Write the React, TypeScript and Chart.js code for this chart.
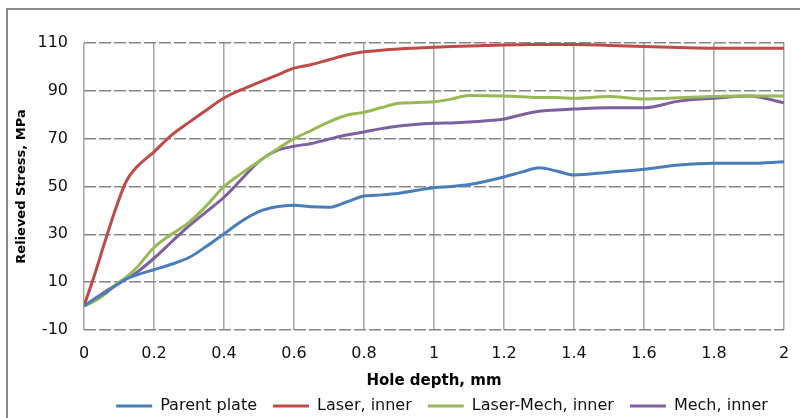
import React, { useEffect, useRef } from "react";
import { Chart, registerables } from "chart.js";

Chart.register(...registerables);

const depthMm = [0, 0.03, 0.06, 0.09, 0.12, 0.15, 0.2, 0.25, 0.3, 0.35, 0.4, 0.45, 0.5, 0.55, 0.6, 0.65, 0.7, 0.75, 0.8, 0.85, 0.9, 1.0, 1.05, 1.1, 1.2, 1.25, 1.3, 1.35, 1.4, 1.5, 1.6, 1.7, 1.8, 1.9, 2.0];
const parentPlate = [0, 3, 5.5, 8.5, 11.3, 13, 15.2, 17.5, 20.3, 25, 30.2, 35.5, 39.5, 41.5, 42.2, 41.5, 41.3, 43.5, 46, 46.5, 47.2, 49.5, 50, 50.8, 54, 56, 57.8, 56.5, 54.8, 56, 57.2, 59, 59.7, 59.7, 60.3];
const laserInner = [0, 13, 27, 40.5, 52, 58, 64.5, 71.5, 76.8, 82, 87, 90.5, 93.5, 96.5, 99.5, 101, 103, 105, 106.3, 107, 107.5, 108.2, 108.5, 108.7, 109.2, 109.3, 109.4, 109.4, 109.4, 109, 108.5, 108.1, 107.8, 107.8, 107.8];
const laserMechInner = [0, 2, 5, 9, 12, 16, 24.5, 30, 35, 42, 50, 55.5, 60.5, 65.5, 70, 73.5, 77, 79.8, 81, 83, 84.8, 85.4, 86.6, 88, 87.8, 87.5, 87.2, 87.2, 86.9, 87.6, 86.6, 87.1, 87.6, 87.8, 87.8];
const mechInner = [0, 3, 6, 8.7, 11.3, 14, 20, 26.8, 33.5, 39.5, 45.5, 53, 60.5, 65, 66.8, 68, 69.8, 71.5, 72.8, 74.2, 75.3, 76.4, 76.6, 77, 78.2, 80, 81.5, 82, 82.4, 82.9, 82.9, 85.7, 86.9, 87.8, 85];

const seriesLabels = ["Parent plate", "Laser, inner", "Laser-Mech, inner", "Mech, inner"];
const seriesColors = ["#4A7EBB", "#BE4B48", "#98B954", "#7D60A0"];
const xTicks = [0, 0.2, 0.4, 0.6, 0.8, 1, 1.2, 1.4, 1.6, 1.8, 2];
const yTicks = [-10, 10, 30, 50, 70, 90, 110];
const xTitle = "Hole depth, mm";
const yTitle = "Relieved Stress, MPa";

const FONT = "'DejaVu Sans', sans-serif";

const legendShift = {
  id: "legendShift",
  afterLayout(chart: any) {
    if (chart.legend) {
      chart.legend.left += 8;
      chart.legend.right += 8;
    }
  },
};

export default function App() {
  const canvasRef = useRef<HTMLCanvasElement | null>(null);

  useEffect(() => {
    if (!canvasRef.current) return;
    const seriesValues = [parentPlate, laserInner, laserMechInner, mechInner];
    const chart = new Chart(canvasRef.current, {
      type: "line",
      data: {
        datasets: seriesValues.map((vals, i) => ({
          label: seriesLabels[i],
          data: depthMm.map((x, j) => ({ x, y: vals[j] })),
          borderColor: seriesColors[i],
          backgroundColor: seriesColors[i],
          borderWidth: 3,
          pointRadius: 0,
          cubicInterpolationMode: "monotone" as const,
          fill: false,
        })),
      },
      plugins: [legendShift],
      options: {
        animation: false,
        responsive: false,
        maintainAspectRatio: false,
        layout: { padding: { left: 0, top: 43, right: 16, bottom: 0 } },
        plugins: {
          tooltip: { enabled: false },
          legend: {
            position: "bottom",
            fullSize: false,
            maxHeight: 36,
            labels: {
              usePointStyle: true,
              pointStyle: "line",
              pointStyleWidth: 36,
              padding: 16,
              color: "#111",
              font: { family: FONT, size: 16 },
            },
          },
        },
        scales: {
          x: {
            type: "linear",
            min: 0,
            max: 2,
            afterBuildTicks: (axis: any) => {
              axis.ticks = xTicks.map((v) => ({ value: v }));
            },
            afterFit: (axis: any) => {
              axis.height = 52;
              axis.paddingLeft = 0;
              axis.paddingRight = 0;
            },
            ticks: {
              padding: 14,
              color: "#111",
              font: { family: FONT, size: 16 },
              callback: (v: any) => String(v),
              maxRotation: 0,
            },
            grid: { color: "#A6A6A6", lineWidth: 1.5, drawTicks: false },
            border: { display: false },
            title: {
              display: true,
              text: xTitle,
              color: "#000",
              font: { family: FONT, size: 15, weight: "bold" },
              padding: { top: 0, bottom: -8 },
            },
          },
          y: {
            type: "linear",
            min: -10,
            max: 110,
            afterBuildTicks: (axis: any) => {
              axis.ticks = yTicks.map((v) => ({ value: v }));
            },
            afterFit: (axis: any) => {
              axis.width = 84;
            },
            ticks: {
              padding: 16,
              color: "#111",
              font: { family: FONT, size: 16 },
              callback: (v: any) => String(v),
            },
            grid: { color: "#868686", lineWidth: 1.5, drawTicks: false },
            border: { display: false, dash: [12, 3] },
            title: {
              display: true,
              text: yTitle,
              color: "#000",
              font: { family: FONT, size: 13, weight: "bold" },
              padding: { top: 14, bottom: 0 },
            },
          },
        },
      },
    });
    return () => chart.destroy();
  }, []);

  return (
    <div style={{ position: "fixed", left: 0, top: 0, width: 800, height: 418, background: "#fff", overflow: "hidden" }}>
      <canvas ref={canvasRef} width={800} height={418} style={{ display: "block", width: 800, height: 418 }} />
      <div
        style={{
          position: "absolute",
          left: 6,
          top: 8,
          width: 820,
          height: 440,
          border: "2px solid #8C8C8C",
          boxSizing: "border-box",
          pointerEvents: "none",
        }}
      />
    </div>
  );
}
